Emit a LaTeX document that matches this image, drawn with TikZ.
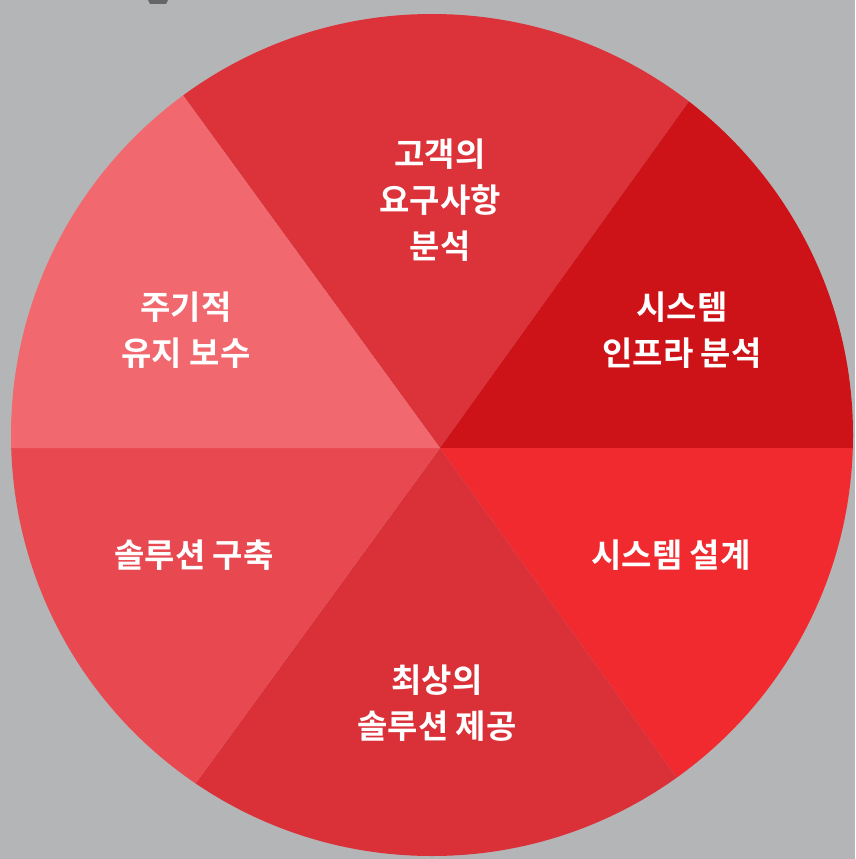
\documentclass[tikz,border=0pt]{standalone}
\usepackage{fontspec}
\newfontfamily\kr{Noto Sans CJK KR}[BoldFont={Noto Sans CJK KR Bold}]
\definecolor{bggray}{RGB}{180,181,183}
\definecolor{cTop}{RGB}{220,50,58}
\definecolor{cTR}{RGB}{205,18,24}
\definecolor{cBR}{RGB}{241,42,48}
\definecolor{cBot}{RGB}{218,48,56}
\definecolor{cBL}{RGB}{232,72,80}
\definecolor{cTL}{RGB}{241,104,110}
\tikzset{
  lbl/.style={text=white, font=\kr\bfseries\fontsize{33}{46}\selectfont, align=center, inner sep=0pt}
}
\begin{document}
\begin{tikzpicture}[x=1pt,y=-1pt]
  \fill[bggray] (0,0) rectangle (855,859);
  \useasboundingbox (0,0) rectangle (855,859);
  \fill[black!60] (148,0) -- (168,0) -- (166,4) -- (150,4) -- cycle;
  \coordinate (V) at (440,448);
  \coordinate (R) at (1500,448);
  \coordinate (UR) at (1190,-596);
  \coordinate (UL) at (-325,-602);
  \coordinate (L) at (-600,448);
  \coordinate (LL) at (-325,1498);
  \coordinate (LR) at (1190,1492);
  \begin{scope}
    \clip (432,435) circle (421);
    \fill[cTop] (V) -- (UL) -- (UR) -- cycle;
    \fill[cTR] (V) -- (UR) -- (1500,-600) -- (R) -- cycle;
    \fill[cBR] (V) -- (R) -- (1500,1500) -- (LR) -- cycle;
    \fill[cBot] (V) -- (LR) -- (LL) -- cycle;
    \fill[cBL] (V) -- (LL) -- (-600,1500) -- (L) -- cycle;
    \fill[cTL] (V) -- (L) -- (-600,-600) -- (UL) -- cycle;
  \end{scope}
  \node[lbl] (t1) at (440,200) {고객의\\요구사항\\분석};
  \node[lbl] (t2) at (682,330) {시스템\\인프라 분석};
  \node[lbl] (t3) at (671,555) {시스템 설계};
  \node[lbl] (t4) at (437,703) {최상의\\솔루션 제공};
  \node[lbl] (t5) at (194,555) {솔루션 구축};
  \node[lbl] (t6) at (186,330) {주기적\\유지 보수};
\end{tikzpicture}
\end{document}
